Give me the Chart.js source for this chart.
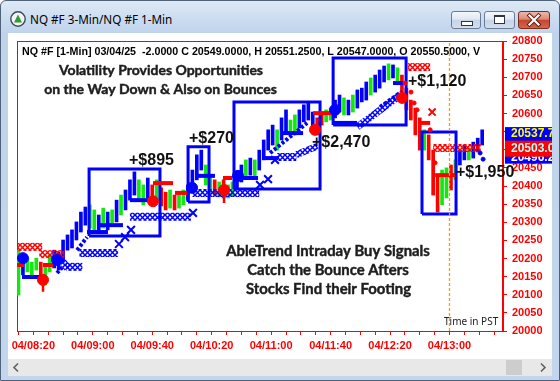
<!DOCTYPE html>
<html><head><meta charset="utf-8">
<script src="https://cdn.jsdelivr.net/npm/chart.js@4.4.1/dist/chart.umd.min.js"></script>
<style>
html,body{margin:0;padding:0;width:560px;height:381px;overflow:hidden;background:#fff}
#frame{position:absolute;left:0;top:0;width:558px;height:379px;border:1px solid #4f6378;border-radius:6px 6px 0 0;background:linear-gradient(#dfe9f6 0px,#c9dbf0 20px,#bfd3eb 33px,#c3d6ee 100%);}
#title{position:absolute;left:30px;top:11px;font:11.7px 'Noto Sans',sans-serif;color:#000;white-space:nowrap}
#icon{position:absolute;left:10px;top:11px}
.btn{position:absolute;top:11px;height:18px;border:1px solid #6a7c95;border-radius:3px;box-sizing:border-box;background:linear-gradient(#f4f7fb 0%,#dfe8f3 45%,#c6d4e7 52%,#d3deed 100%)}
#bmin{left:451px;width:30px}
#bmax{left:484px;width:31px}
#bclose{left:518px;width:32px;border-color:#7a2c1f;background:linear-gradient(#ecb8aa 0%,#dc8a74 45%,#c8452c 52%,#d4664c 100%)}
#gmin{position:absolute;left:9px;top:9px;width:10px;height:3px;background:#fff;border:1px solid #2c3540}
#gmax{position:absolute;left:9px;top:3px;width:9px;height:6px;background:#fff;border:1px solid #2c3540;border-top-width:2px}
#content{position:absolute;left:8px;top:33px;width:544px;height:326px;background:#fff}
#scroll{position:absolute;left:8px;top:359px;width:544px;height:17px;background:#e8e8e8}
#thumb{position:absolute;left:498px;top:1px;width:16px;height:15px;background:#cdcdcd}
canvas{position:absolute;left:0;top:0}
</style></head>
<body>
<div id="frame"></div>
<svg id="icon" width="16" height="16" viewBox="0 0 16 16"><circle cx="8" cy="8" r="7.2" fill="#f4f4f4" stroke="#3c4a58" stroke-width="1.4"/><polygon points="8,3.5 12,11.5 4,11.5" fill="#2e9a3a"/></svg>
<div id="title">NQ #F 3-Min/NQ #F 1-Min</div>
<div class="btn" id="bmin"><div id="gmin"></div></div>
<div class="btn" id="bmax"><div id="gmax"></div></div>
<div class="btn" id="bclose"><svg width="30" height="16" style="position:absolute;left:0;top:0"><path d="M10.5 3.5 L19.5 12.5 M19.5 3.5 L10.5 12.5" stroke="#5a1a10" stroke-width="4" stroke-linecap="square"/><path d="M10.5 3.5 L19.5 12.5 M19.5 3.5 L10.5 12.5" stroke="#fff" stroke-width="2.2" stroke-linecap="square"/></svg></div>
<div id="content"></div>
<div id="scroll"><svg width="544" height="17" style="position:absolute;left:0;top:0"><path d="M10 4.5 L6 8.5 L10 12.5" fill="none" stroke="#606060" stroke-width="1.6"/><path d="M533 4.5 L537 8.5 L533 12.5" fill="none" stroke="#606060" stroke-width="1.6"/></svg><div id="thumb"></div></div>
<canvas id="c" width="552" height="358"></canvas>
<script>
// ---------- data (time in minutes since midnight, prices in index points) ----------
const barStart = 490, barStep = 3;            // 3-minute bars starting 08:10
const lows  = [20099,20155,20163,20146,20168,20135,20127,20163,20174,20168,20190,20223,20229,20251,20273,20292,20284,20279,20273,20284,
               20279,20290,20301,20320,20334,20361,20375,20361,20348,20367,20348,20361,20345,20334,20339,20334,20339,20348,20361,20383,
               20417,20444,20403,20383,20375,20370,20367,20367,20372,20395,20411,20422,20430,20428,20444,20472,20499,20513,20499,20527,
               20549,20541,20541,20560,20577,20582,20555,20541,20568,20577,20582,20588,20604,20596,20596,20604,20615,20632,20637,20651,
               20659,20670,20687,20693,20698,20687,20651,20610,20582,20541,20499,20499,20472,20375,20328,20348,20367,20389,20417,20458,
               20472,20472,20477,20494,20513];
const highs = [20223,20210,20201,20190,20201,20190,20182,20210,20223,20218,20251,20265,20279,20301,20328,20342,20348,20334,20320,20339,
               20328,20334,20361,20375,20389,20417,20439,20417,20403,20422,20403,20417,20395,20383,20389,20375,20383,20389,20403,20444,
               20486,20499,20458,20430,20417,20411,20417,20403,20411,20439,20458,20472,20477,20472,20499,20527,20555,20568,20555,20588,
               20610,20582,20596,20610,20624,20629,20604,20588,20604,20610,20615,20637,20651,20643,20637,20651,20665,20670,20687,20698,
               20706,20720,20731,20737,20734,20726,20706,20670,20637,20615,20588,20555,20541,20499,20430,20444,20450,20458,20472,20499,
               20513,20505,20521,20532,20555];
const barTrend = ['g','b','g','g','g','r','g','g','b','b','b','b','b','b','b','b','g','g','b','g',
                  'b','g','b','g','b','b','b','g','g','b','r','g','r','r','g','r','g','g','b','b',
                  'b','b','g','g','r','g','r','g','g','b','b','g','b','g','b','b','b','b','g','b',
                  'b','g','g','b','b','b','b','r','r','g','g','b','b','g','b','g','b','b','b','g',
                  'b','b','b','g','b','g','r','r','r','r','r','g','r','r','r','g','g','r','g','b',
                  'b','g','b','b','b'];
const redStopRows  = [[489,506,20232],[504,521,20212],[752,767,20728],[769,801,20505]];
const blueStopRows = [[522,533,20177],[531,557,20215],[565,606,20315],[607,652,20381],[664,677,20480]];
const blueStopSlopes = [[677,20486,691,20510],[718,20563,749,20657],[520,20192,523,20172]];
const blueXs = [[557.6,20240],[561.7,20259],[565.7,20279],[607.4,20326],[662.6,20472],[652.5,20403],[657.9,20419]];
const redXs  = [[768.3,20604]];
const blueTrails = [[529.4,20223,536.1,20259],[659.3,20491,684.2,20574],[733.3,20618,746.7,20657],[515.9,20160,520,20178]];
const blueDots = [[800.6,20491],[802.6,20474]];
const redDots  = [[750.1,20684],[754.1,20659],[756.2,20629],[758.2,20610],[767,20555],[770.3,20464]];
const blueLevels = [[492.4,507.8,20149],[536.1,550.2,20273],[544.9,560.3,20292],[565,578.5,20361],[610.8,622.2,20428],
                    [637.7,651.2,20422],[655.9,664.6,20477],[668,681.5,20546],[701.7,717.8,20574],[742,748.8,20684]];
const redLevels  = [[489,493.7,20182],[506.5,513.2,20182],[580.5,594,20408],[595.3,603.4,20381],[627.6,633.7,20422],
                    [688.2,701.7,20601],[758.9,767,20574],[770.3,783.8,20430]];
const buySignals  = [[493,20201],[515.9,20196],[606.8,20395],[637.7,20428],[703,20610]];
const sellSignals = [[506.5,20141],[580.5,20358],[628.3,20389],[689.5,20555],[748.1,20643]];
const sellStems   = [[506.5,20141,20108],[628.3,20389,20353]];
const tradeBoxes  = [[537.5,585.2,20262,20447],[604.1,618.2,20356,20508],[635,692.9,20392,20632],[701.7,750.8,20568,20753],[761.5,784.4,20323,20549]];
const tradeProfits = ['+$895','+$270','+$2,470','+$1,120','+$1,950'];
const sessionMark = 780;   // 13:00 PST
const priceTags = [20537.7, 20503.0, 20496.2];
const headerText = 'NQ #F [1-Min] 03/04/25  -2.0000 C 20549.0000, H 20551.2500, L 20547.0000, O 20550.5000, V';
const note1 = ['Volatility Provides Opportunities','on the Way Down & Also on Bounces'];
const note2 = ['AbleTrend Intraday Buy Signals','Catch the Bounce Afters','Stocks Find their Footing'];

// ---------- styling ----------
const BLUE='#0000ff', GREEN='#10e810', RED='#ff0000';
const palette = {b:BLUE, g:GREEN, r:RED};
function hatch(color){
  const c=document.createElement('canvas'); c.width=5; c.height=5;
  const g=c.getContext('2d'); g.strokeStyle=color; g.lineWidth=1.5;
  g.beginPath(); g.moveTo(0,0); g.lineTo(5,5); g.moveTo(5,0); g.lineTo(0,5); g.stroke();
  return g.createPattern(c,'repeat');
}
const hatchRed=hatch(RED), hatchBlue=hatch(BLUE);
const seg=(x1,y1,x2,y2,color,width,order,dash)=>({type:'line',data:[{x:x1,y:y1},{x:x2,y:y2}],borderColor:color,borderWidth:width,
  pointRadius:0,borderDash:dash||[],borderCapStyle:'butt',order:order,fill:false,tension:0});
const pts=(arr,color,style,radius,order,bw)=>({type:'scatter',data:arr.map(p=>({x:p[0],y:p[1]})),pointStyle:style,pointRadius:radius,
  pointBackgroundColor:color,pointBorderColor:color,pointBorderWidth:bw||1,order:order});

const datasets=[];
datasets.push({type:'bar',data:lows.map((l,i)=>({x:barStart+i*barStep,y:[l,highs[i]]})),backgroundColor:barTrend.map(c=>palette[c]),
  barThickness:3,order:20,borderWidth:0});
tradeBoxes.forEach(b=>datasets.push({type:'line',data:[{x:b[0],y:b[2]},{x:b[1],y:b[2]},{x:b[1],y:b[3]},{x:b[0],y:b[3]},{x:b[0],y:b[2]}],
  borderColor:BLUE,borderWidth:3,pointRadius:0,order:6,fill:false,borderJoinStyle:'miter'}));
redStopRows.forEach(r=>datasets.push(seg(r[0],r[2],r[1],r[2],hatchRed,8,8)));
blueStopRows.forEach(r=>datasets.push(seg(r[0],r[2],r[1],r[2],hatchBlue,8,8)));
blueStopSlopes.forEach(r=>datasets.push(seg(r[0],r[1],r[2],r[3],hatchBlue,7,8)));
blueTrails.forEach(r=>datasets.push(seg(r[0],r[1],r[2],r[3],BLUE,4,7,[3,2])));
blueLevels.forEach(r=>datasets.push(seg(r[0],r[2],r[1],r[2],BLUE,4,5)));
redLevels.forEach(r=>datasets.push(seg(r[0],r[2],r[1],r[2],RED,4,5)));
sellStems.forEach(r=>datasets.push(seg(r[0],r[1],r[0],r[2],RED,2.5,4)));
datasets.push(pts(blueXs,BLUE,'crossRot',5.5,3,2));
datasets.push(pts(redXs,RED,'crossRot',5,3,2));
datasets.push(pts(blueDots,BLUE,'circle',2,3));
datasets.push(pts(redDots,RED,'circle',2,3));
datasets.push(pts(buySignals,BLUE,'circle',5.5,2));
datasets.push(pts(sellSignals,RED,'circle',5.5,2));
datasets.push(seg(sessionMark,20000,sessionMark,20800,'#ff9900',1.3,1,[3,2]));

function fitSize(ctx,text,font,width){ctx.font='bold 100px '+font;return 100*width/ctx.measureText(text).width;}
function boldText(ctx,t,x,y){ctx.fillText(t,x,y);ctx.strokeText(t,x,y);}

const decor={
  id:'decor',
  beforeDatasetsDraw(chart){
    const {ctx,chartArea:a}=chart;
    ctx.save(); ctx.strokeStyle=RED; ctx.lineWidth=1;
    ctx.strokeRect(a.left+0.5,a.top+0.5,a.right-a.left-1,a.bottom-a.top); ctx.restore();
  },
  afterDraw(chart){
    const ctx=chart.ctx, ys=chart.scales.y;
    ctx.save();
    ctx.textBaseline='middle';
    // header
    ctx.fillStyle='#000'; ctx.textAlign='left';
    ctx.font='bold 10.7px "Liberation Sans", Arial, sans-serif';
    ctx.fillText(headerText,22,52);
    // notes
    ctx.fillStyle='#1e1e1e'; ctx.strokeStyle='#1e1e1e'; ctx.lineWidth=0.45; ctx.textAlign='center';
    let s=fitSize(ctx,note1[1],'Lato',233);
    ctx.font='bold '+s+'px Lato';
    boldText(ctx,note1[0],161,70); boldText(ctx,note1[1],160.5,89);
    s=fitSize(ctx,note2[0],'Lato',204);
    ctx.font='bold '+s+'px Lato';
    boldText(ctx,note2[0],328,251); boldText(ctx,note2[1],328,270); boldText(ctx,note2[2],328.5,289);
    // profits
    ctx.textAlign='left'; ctx.fillStyle='#111';
    ctx.font='bold 16px "Liberation Sans", Arial, sans-serif';
    const anchors=[[129,161],[189,139],[312,143],[408,82],[456,173]];
    tradeProfits.forEach((t,i)=>ctx.fillText(t,anchors[i][0],anchors[i][1]));
    // time note
    ctx.fillStyle='#222'; ctx.font='10px "Noto Sans", sans-serif';
    ctx.fillText('Time in PST',444,322);
    // price tags on the right axis
    const x0=505, w=50;
    const y1=ys.getPixelForValue(priceTags[0])-2, y2=ys.getPixelForValue(priceTags[1]);
    ctx.font='bold 12px "Liberation Sans", Arial, sans-serif';
    ctx.fillStyle=BLUE; ctx.fillRect(x0,y1-7,w,y2+15-(y1-7));
    ctx.fillStyle='#ffff00'; ctx.fillText(priceTags[0].toFixed(1),511,y1);
    ctx.fillStyle='#fff'; ctx.fillText(priceTags[2].toFixed(1),511,y2+9);
    ctx.fillStyle='#ff0000'; ctx.fillRect(x0,y2-8,w,16);
    ctx.fillStyle='#b8ffff'; ctx.fillText(priceTags[1].toFixed(1),511,y2);
    ctx.restore();
  }
};

const pad=n=>String(n).padStart(2,'0');
new Chart(document.getElementById('c'),{
  type:'bar',
  data:{datasets},
  options:{
    responsive:false, animation:false, devicePixelRatio:1,
    layout:{padding:{left:17,top:41,right:0,bottom:0}},
    plugins:{legend:{display:false},tooltip:{enabled:false}},
    scales:{
      x:{type:'linear',min:489,max:816,offset:false,position:'bottom',
         grid:{drawOnChartArea:false,drawTicks:true,tickLength:4,color:RED,offset:false},
         border:{color:RED},
         ticks:{stepSize:10,autoSkip:false,maxRotation:0,includeBounds:false,color:RED,padding:4,
                font:{family:'"Liberation Sans", Arial',size:11,weight:'bold'},
                callback:v=>((v-500)%40===0)?('04/'+pad(Math.floor(v/60))+':'+pad(v%60)):''},
         afterFit:s=>{s.height=27;}},
      y:{type:'linear',position:'right',min:20000,max:20800,
         grid:{drawOnChartArea:false,tickLength:4,color:RED},
         border:{color:RED},
         ticks:{stepSize:50,color:RED,padding:5,font:{family:'"Liberation Sans", Arial',size:11,weight:'bold'},callback:v=>String(v)},
         afterFit:s=>{s.width=49;}}
    }
  },
  plugins:[decor]
});
</script>
</body></html>
